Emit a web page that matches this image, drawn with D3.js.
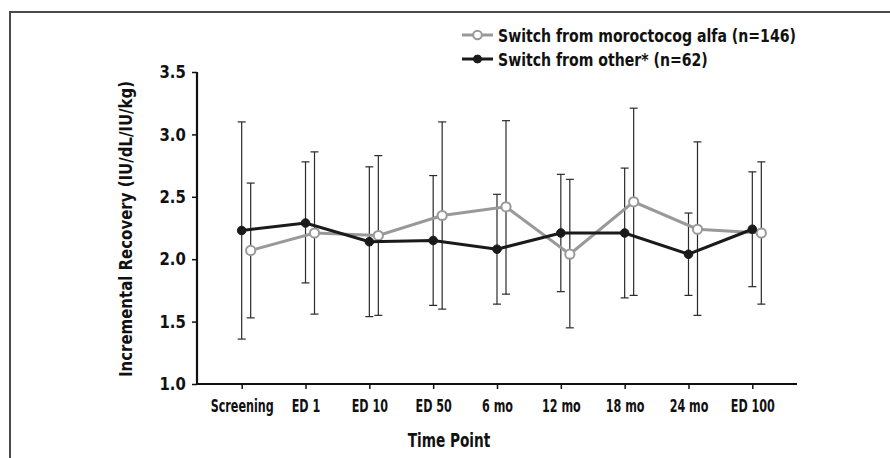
<!DOCTYPE html>
<html>
<head>
<meta charset="utf-8">
<script src="https://cdn.jsdelivr.net/npm/d3@7"></script>
<style>
  html, body { margin: 0; padding: 0; background: #fff; }
  svg { display: block; }
  text { font-family: 'Liberation Sans Narrow', 'DejaVu Sans Condensed', 'Arial Narrow', sans-serif; font-weight: bold; }
</style>
</head>
<body>
<div id="chart"></div>
<script>
// Time points on the x axis
var timePoints = ['Screening', 'ED 1', 'ED 10', 'ED 50', '6 mo', '12 mo', '18 mo', '24 mo', 'ED 100'];

// Switch from moroctocog alfa (n=146): mean, lower and upper whisker
var moroMean  = [2.07, 2.21, 2.19, 2.35, 2.42, 2.04, 2.46, 2.24, 2.21];
var moroLow   = [1.53, 1.56, 1.55, 1.60, 1.72, 1.45, 1.71, 1.55, 1.64];
var moroHigh  = [2.61, 2.86, 2.83, 3.10, 3.11, 2.64, 3.21, 2.94, 2.78];

// Switch from other* (n=62)
var otherMean = [2.23, 2.29, 2.14, 2.15, 2.08, 2.21, 2.21, 2.04, 2.24];
var otherLow  = [1.36, 1.81, 1.54, 1.63, 1.64, 1.74, 1.69, 1.71, 1.78];
var otherHigh = [3.10, 2.78, 2.74, 2.67, 2.52, 2.68, 2.73, 2.37, 2.70];

var yTicks = [1.0, 1.5, 2.0, 2.5, 3.0, 3.5];

var width = 890;
var height = 458;
var plot = { left: 197, right: 797, top: 72, bottom: 384 };

var svg = d3.select('#chart').append('svg')
            .attr('width', width)
            .attr('height', height);

// Outer frame, open on the right and bottom like the cropped figure
svg.append('rect')
   .attr('x', 10)
   .attr('y', 12)
   .attr('width', width + 20)
   .attr('height', height + 20)
   .attr('fill', 'none')
   .attr('stroke', '#4a4a4a')
   .attr('stroke-width', 2);

var x = d3.scalePoint()
          .domain(timePoints)
          .range([plot.left, plot.right])
          .padding(0.7);

var y = d3.scaleLinear()
          .domain([1.0, 3.5])
          .range([plot.bottom, plot.top]);

// Axes
var xAxis = d3.axisBottom(x).tickSize(5).tickPadding(11);
var yAxis = d3.axisLeft(y).tickValues(yTicks).tickFormat(d3.format('.1f')).tickSize(5).tickPadding(6);

var gx = svg.append('g')
            .attr('transform', 'translate(0,' + plot.bottom + ')')
            .call(xAxis);
gx.select('.domain').attr('d', 'M' + plot.left + ',0H' + plot.right);

var gy = svg.append('g')
            .attr('transform', 'translate(' + plot.left + ',0)')
            .call(yAxis);
gy.select('.domain').attr('d', 'M0,' + plot.top + 'V' + plot.bottom);

[gx, gy].forEach(function(g) {
  g.select('.domain').attr('stroke', '#111').attr('stroke-width', 2.2);
  g.selectAll('.tick line').attr('stroke', '#111').attr('stroke-width', 1.5);
});
// the figure uses a tall condensed face, so squeeze the labels horizontally
gx.selectAll('.tick text')
  .attr('font-size', 17)
  .attr('fill', '#111')
  .attr('transform', 'scale(0.73,1)');
gy.selectAll('.tick text')
  .attr('font-size', 18)
  .attr('fill', '#111')
  .attr('transform', 'translate(-1,0) scale(0.92,1)');

// Axis titles
svg.append('text')
   .attr('transform', 'translate(449,447) scale(0.78,1)')
   .attr('text-anchor', 'middle')
   .attr('font-size', 19.5)
   .attr('fill', '#111')
   .text('Time Point');

svg.append('text')
   .attr('transform', 'translate(132,229) rotate(-90) scale(0.9,1)')
   .attr('text-anchor', 'middle')
   .attr('font-size', 18.5)
   .attr('fill', '#111')
   .text('Incremental Recovery (IU/dL/IU/kg)');

// Build series records from the arrays
function makeSeries(mean, low, high) {
  return timePoints.map(function(t, i) {
    return { t: t, mean: mean[i], low: low[i], high: high[i] };
  });
}

var series = [
  { name: 'Switch from other* (n=62)', values: makeSeries(otherMean, otherLow, otherHigh),
    offset: 0, color: '#1a1a1a', open: false },
  { name: 'Switch from moroctocog alfa (n=146)', values: makeSeries(moroMean, moroLow, moroHigh),
    offset: 9, color: '#999999', open: true }
];

var capHalf = 4;

// Error bars first, lines and markers on top
series.forEach(function(s) {
  var g = svg.append('g');
  var bars = g.selectAll('g.err').data(s.values).enter().append('g').classed('err', true);
  bars.append('line')
      .attr('x1', function(d) { return x(d.t) + s.offset; })
      .attr('x2', function(d) { return x(d.t) + s.offset; })
      .attr('y1', function(d) { return y(d.low); })
      .attr('y2', function(d) { return y(d.high); });
  bars.append('line')
      .attr('x1', function(d) { return x(d.t) + s.offset - capHalf; })
      .attr('x2', function(d) { return x(d.t) + s.offset + capHalf; })
      .attr('y1', function(d) { return y(d.high); })
      .attr('y2', function(d) { return y(d.high); });
  bars.append('line')
      .attr('x1', function(d) { return x(d.t) + s.offset - capHalf; })
      .attr('x2', function(d) { return x(d.t) + s.offset + capHalf; })
      .attr('y1', function(d) { return y(d.low); })
      .attr('y2', function(d) { return y(d.low); });
  bars.selectAll('line').attr('stroke', '#2a2a2a').attr('stroke-width', 1.2);
});

var lineFunc = function(s) {
  return d3.line()
           .x(function(d) { return x(d.t) + s.offset; })
           .y(function(d) { return y(d.mean); });
};

// draw gray series below the black one
[series[1], series[0]].forEach(function(s) {
  svg.append('path')
     .attr('d', lineFunc(s)(s.values))
     .attr('fill', 'none')
     .attr('stroke', s.color)
     .attr('stroke-width', 3);

  svg.append('g').selectAll('circle').data(s.values).enter()
     .append('circle')
     .attr('cx', function(d) { return x(d.t) + s.offset; })
     .attr('cy', function(d) { return y(d.mean); })
     .attr('r', s.open ? 4.6 : 4.3)
     .attr('fill', s.open ? '#fff' : s.color)
     .attr('stroke', s.color)
     .attr('stroke-width', s.open ? 2 : 1);
});

// Legend
var legend = svg.append('g');
var legendItems = [series[1], series[0]];
legendItems.forEach(function(s, i) {
  var ly = 35 + i * 24;
  legend.append('line')
        .attr('x1', 462).attr('x2', 493)
        .attr('y1', ly).attr('y2', ly)
        .attr('stroke', s.color)
        .attr('stroke-width', 3);
  legend.append('circle')
        .attr('cx', 477.5).attr('cy', ly)
        .attr('r', s.open ? 4.3 : 4)
        .attr('fill', s.open ? '#fff' : s.color)
        .attr('stroke', s.color)
        .attr('stroke-width', s.open ? 2 : 1);
  legend.append('text')
        .attr('transform', 'translate(498,' + (ly + 6.5) + ') scale(0.87,1)')
        .attr('font-size', 18)
        .attr('fill', '#111')
        .text(s.name);
});
</script>
</body>
</html>
